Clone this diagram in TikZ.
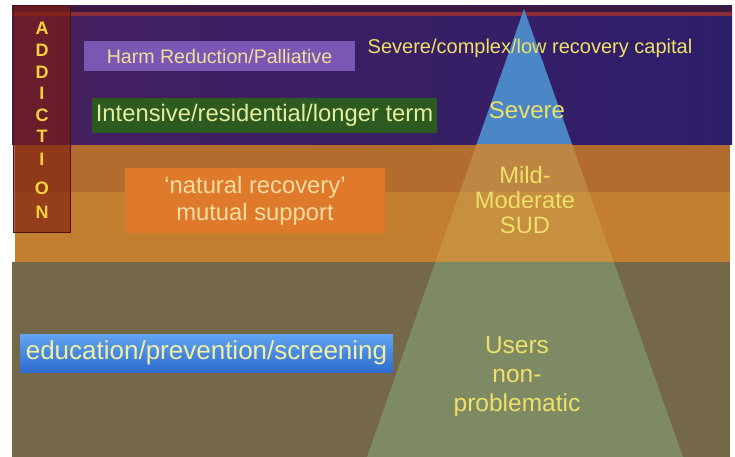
\documentclass[tikz,border=0pt]{standalone}
\usepackage{fontspec}
\setmainfont{Liberation Sans}

\definecolor{purpleL}{HTML}{46205F}
\definecolor{purpleR}{HTML}{2D1E6B}
\definecolor{topstrip}{HTML}{3A1842}
\definecolor{redline}{HTML}{8A2C3A}
\definecolor{orangeA}{HTML}{B26D2E}
\definecolor{orangeB}{HTML}{C27F30}
\definecolor{olive}{HTML}{756848}
\definecolor{triblue}{HTML}{4B87C6}
\definecolor{triorangeA}{HTML}{BD8642}
\definecolor{triorangeB}{HTML}{C78F40}
\definecolor{triolive}{HTML}{7E8A63}
\definecolor{colred}{HTML}{7E1C10}
\definecolor{colborder}{HTML}{4A1216}
\definecolor{letteryellow}{HTML}{F6D23C}
\definecolor{pyrtext}{HTML}{EEE068}
\definecolor{harmfill}{HTML}{7A57B3}
\definecolor{harmtext}{HTML}{F0DE9E}
\definecolor{intfill}{HTML}{2D5A20}
\definecolor{inttext}{HTML}{E4EE9C}
\definecolor{natfill}{HTML}{DF7A2B}
\definecolor{nattext}{HTML}{F4DCA2}
\definecolor{edutop}{HTML}{62A4F2}
\definecolor{edubot}{HTML}{2F6CCF}
\definecolor{edutext}{HTML}{F0F0A4}

\begin{document}
\begin{tikzpicture}[
            x=1pt, y=-1pt,
            every node/.style={inner sep=0pt, align=center, text=pyrtext},
            letter/.style={font=\fontsize{18}{18}\selectfont\bfseries, text=letteryellow},
            tagbox/.style={minimum width=#1},
            level/.style={font=\fontsize{24}{27}\selectfont}
        ]

        % Page and bands
        \fill[white] (0,0) rectangle (735,457);
        \shade[left color=purpleL, right color=purpleR] (12,6) rectangle (732,145);
        \fill[topstrip] (12,6) rectangle (732,12);
        \fill[redline] (12,12) rectangle (732,16);
        \fill[orangeA] (15,145) rectangle (730,192);
        \fill[orangeB] (15,192) rectangle (730,262);
        \fill[olive] (12,262) rectangle (730,457);

        % Pyramid, one colour per band
        \foreach \top/\bot/\col in {6/145/triblue, 145/192/triorangeA, 192/262/triorangeB, 262/457/triolive} {
            \begin{scope}
                \clip (0,\top) rectangle (735,\bot);
                \fill[\col] (524,9) -- (683,457) -- (367,457) -- cycle;
            \end{scope}
        }

        % Side column
        \fill[colred, opacity=0.65] (13,6) rectangle (70,232);
        \draw[colborder, line width=1pt] (13,6) rectangle (70,232);
        \foreach \ch/\y [count=\i] in {A/28, D/50, D/72, I/93, C/115, T/136, I/159, O/188, N/212}
            \node[letter] (ltr\i) at (42,\y) {\ch};

        % Treatment boxes
        \node[tagbox=271pt, minimum height=30pt, fill=harmfill, text=harmtext,
              font=\fontsize{19.6}{22}\selectfont] (harm) at (219.5,56) {Harm Reduction/Palliative};
        \node[tagbox=345pt, minimum height=35pt, fill=intfill, text=inttext,
              font=\fontsize{23.8}{26}\selectfont] (intensive) at (264.5,115.5) {Intensive/residential/longer term};
        \node[tagbox=260pt, minimum height=65pt, fill=natfill, text=nattext,
              font=\fontsize{23.8}{27}\selectfont] (natural) at (255,200.5) {`natural recovery'\\mutual support};
        \node[tagbox=373pt, minimum height=38pt, top color=edutop, bottom color=edubot, text=edutext,
              font=\fontsize{26}{28}\selectfont] (education) at (206.5,353) {education/prevention/screening};

        % Pyramid labels
        \node[font=\fontsize{20}{22}\selectfont] (capital) at (530,48) {Severe/complex/low recovery capital};
        \node[level] (severe) at (527,110) {Severe};
        \node[level, font=\fontsize{23.7}{25}\selectfont] (mild) at (525,200) {Mild-\\Moderate\\SUD};
        \node[level, font=\fontsize{24.5}{29}\selectfont] (users) at (517,377) {Users\\non-\\problematic};
        \end{tikzpicture}
\end{document}
